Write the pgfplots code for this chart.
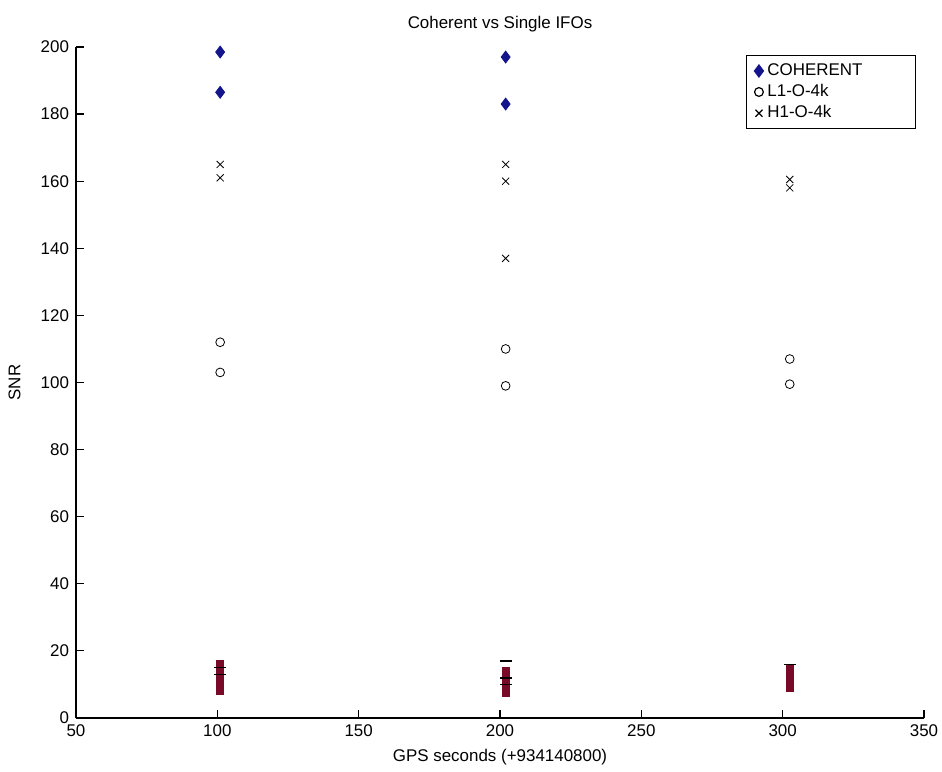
\documentclass[border=0pt]{standalone}
\usepackage{pgfplots}
\pgfplotsset{compat=1.18}
\usepackage{fontspec}
\setmainfont{Liberation Sans}
\definecolor{matblue}{RGB}{20,20,140}
\definecolor{maroon}{RGB}{120,10,40}
\begin{document}
\begin{tikzpicture}
\path[use as bounding box] (-38bp,-27bp) rectangle (433bp,359bp);
\begin{axis}[
  at={(0,0)}, anchor=south west,
  scale only axis,
  width=424bp, height=335.5bp,
  xmin=50, xmax=350, ymin=0, ymax=200,
  xtick={50,100,...,350}, ytick={0,20,...,200},
  axis x line*=bottom, axis y line*=left,
  tick align=inside,
  axis line style={black, line width=0.8pt},
  major tick length=4bp,
  tick style={black, line width=0.6pt},
  font=\fontsize{8.5}{10}\selectfont,
  /pgf/number format/assume math mode=true,
  title={Coherent vs Single IFOs},
  xlabel={GPS seconds (+934140800)},
  ylabel={SNR},
  title style={at={(axis description cs:0.5,1.016)}, anchor=center},
  xlabel style={at={(axis description cs:0.5,-0.058)}, anchor=center},
  ylabel style={at={(axis description cs:-0.0724,0.5)}, anchor=center},
  legend style={at={(axis description cs:1,1)}, anchor=north east, xshift=-4bp, yshift=-4bp,
    draw=black, line width=0.6pt,
    font=\fontsize{8.5}{10}\selectfont, inner xsep=4bp, row sep=-1pt, text width=68bp},
  legend cell align=left,
  clip=false,
]
\addplot[only marks, mark=diamond*, mark size=3pt, color=matblue, fill=matblue] coordinates {
(101,198.5) (101,186.5) (202,197) (202,183)
};
\addlegendentry{COHERENT}
\addplot[only marks, mark=o, mark size=2.2pt, color=black] coordinates {
(101,112) (101,103) (202,110) (202,99) (302.5,107) (302.5,99.5)
};
\addlegendentry{L1-O-4k}
\addplot[only marks, mark=x, mark size=2.5pt, color=black] coordinates {
(101,165) (101,161) (202,165) (202,160) (202,137) (302.5,158) (302.5,160.5)
};
\addlegendentry{H1-O-4k}
\addplot[forget plot, only marks, mark=square*, mark size=1.8pt, color=maroon] coordinates {
(101,16) (101,14) (101,12) (101,10.5) (101,9) (101,8)
(202,14) (202,12) (202,10.5) (202,9) (202,7.5)
(302.5,15) (302.5,13) (302.5,11.5) (302.5,10) (302.5,9)
};
\addplot[forget plot, only marks, mark=-, mark size=3pt, color=black, line width=0.8pt] coordinates {
(101,15) (101,13) (202,17) (202,12) (202,10) (302.5,16)
};
\end{axis}
\end{tikzpicture}
\end{document}
